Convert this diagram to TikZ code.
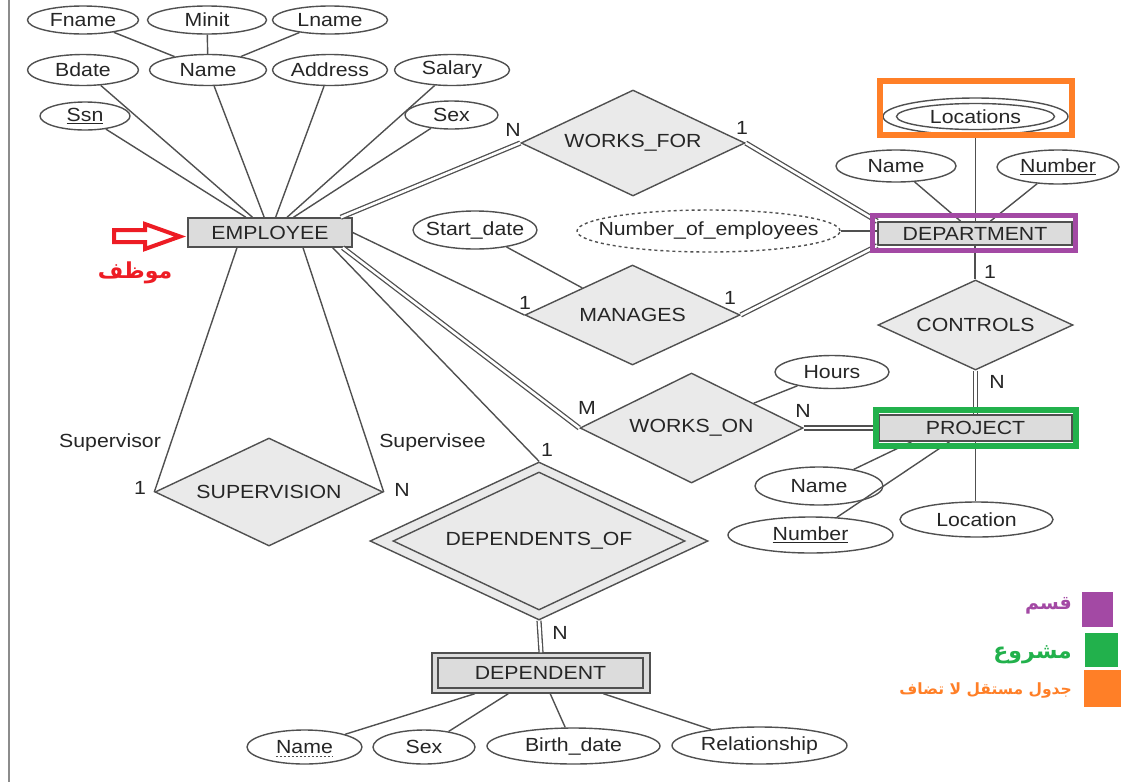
\documentclass[tikz,border=0pt]{standalone}
\usepackage{fontspec}
\setmainfont{Liberation Sans}[FakeStretch=1.12]
\newfontfamily\arabicfont[Script=Arabic]{DejaVu Sans}
\TeXXeTstate=1
\usetikzlibrary{shapes.geometric}
\definecolor{ln}{HTML}{505050}
\definecolor{tx}{HTML}{262626}
\definecolor{entfill}{HTML}{DCDCDC}
\definecolor{relfill}{HTML}{EAEAEA}
\definecolor{pur}{HTML}{A349A4}
\definecolor{grn}{HTML}{22B14C}
\definecolor{org}{HTML}{FF7F27}
\definecolor{rd}{HTML}{ED1C24}
\begin{document}
\begin{tikzpicture}[x=1pt,y=-1pt,
  every node/.style={font=\fontsize{19}{22}\selectfont, text=tx},
  every label/.style={inner sep=0pt},
  attr/.style={ellipse, draw=ln, line width=1.4pt, fill=white, inner sep=0pt},
  ent/.style={rectangle, draw=ln, line width=1.4pt, fill=entfill, inner sep=0pt},
  rel/.style={diamond, draw=ln, line width=1.4pt, fill=relfill, inner sep=0pt, aspect=2},
  conn/.style={draw=ln, line width=1.4pt},
  dbl/.style={draw=ln, line width=1.3pt, double=white, double distance=2.6pt},
  card/.style={inner sep=0pt},
  arab/.style={inner sep=0pt, anchor=east},
]
\useasboundingbox (0,0) rectangle (1121,782);
\draw[black!45, line width=2.5pt] (9,0) -- (9,782);

% ---------- entities
\node[ent, minimum width=164pt, minimum height=29pt] (emp) at (270,232.5) {EMPLOYEE};
\node[ent, minimum width=194pt, minimum height=23pt] (dept) at (975,233.5) {DEPARTMENT};
\node[ent, minimum width=193pt, minimum height=26pt] (proj) at (975.5,428) {PROJECT};
\node[ent, minimum width=218pt, minimum height=40pt] (depo) at (541,673) {};
\node[ent, minimum width=205pt, minimum height=30pt] (dep) at (540.5,673) {DEPENDENT};

% ---------- relationships
\node[rel, minimum width=224pt, minimum height=106pt] (wf) at (633,143) {WORKS\_FOR};
\node[rel, minimum width=215pt, minimum height=100pt] (man) at (632.5,315) {MANAGES};
\node[rel, minimum width=195pt, minimum height=90pt] (ctrl) at (975.5,325) {CONTROLS};
\node[rel, minimum width=223pt, minimum height=110pt] (won) at (691.5,428) {WORKS\_ON};
\node[rel, minimum width=228pt, minimum height=108pt] (sup) at (269,492) {SUPERVISION};
\node[rel, minimum width=338pt, minimum height=158pt] (dofo) at (539,541) {};
\node[rel, minimum width=292pt, minimum height=138pt, fill=none] (dof) at (539,541) {DEPENDENTS\_OF};

% ---------- attributes of EMPLOYEE
\node[attr, minimum width=111pt, minimum height=28pt, label=center:Fname] (fname) at (83,20) {};
\node[attr, minimum width=119pt, minimum height=28pt, label=center:Minit] (minit) at (207,20) {};
\node[attr, minimum width=115pt, minimum height=28pt, label=center:Lname] (lname) at (330,20) {};
\node[attr, minimum width=111pt, minimum height=31pt, label=center:Bdate] (bdate) at (83,70) {};
\node[attr, minimum width=117pt, minimum height=31pt, label=center:Name] (ename) at (208,70) {};
\node[attr, minimum width=115pt, minimum height=31pt, label=center:Address] (addr) at (330,70) {};
\node[attr, minimum width=115pt, minimum height=31pt, label={center:\raisebox{-2pt}{Salary}}] (sal) at (452,70) {};
\node[attr, minimum width=90pt, minimum height=28pt, label=center:\underline{Ssn}] (ssn) at (85,116) {};
\node[attr, minimum width=93pt, minimum height=28pt, label=center:Sex] (esex) at (451.5,115) {};

% ---------- attributes of DEPARTMENT
\node[attr, minimum width=185pt, minimum height=37pt] (loco) at (975.5,116.5) {};
\node[attr, minimum width=158pt, minimum height=26pt, label=center:Locations] (loci) at (975.5,116.5) {};
\node[attr, minimum width=120pt, minimum height=32pt, label=center:Name] (dname) at (896,166) {};
\node[attr, minimum width=122pt, minimum height=34pt, label=center:\underline{Number}] (dnum) at (1058,167) {};
\node[attr, dashed, minimum width=263pt, minimum height=42pt, label={center:\raisebox{-2pt}{Number\_of\_employees}}] (noe) at (708.5,231) {};
\node[attr, minimum width=124pt, minimum height=38pt, label={center:\raisebox{-1pt}{Start\_date}}] (sd) at (475,230) {};

% ---------- attributes of WORKS_ON / PROJECT
\node[attr, minimum width=114pt, minimum height=33pt, label=center:Hours] (hours) at (832,372) {};
\node[attr, minimum width=128pt, minimum height=38pt, label=center:Name] (pname) at (819,486) {};
\node[attr, minimum width=165pt, minimum height=36pt, label=center:\underline{Number}] (pnum) at (810.5,535) {};
\node[attr, minimum width=153pt, minimum height=35pt, label=center:Location] (ploc) at (976.5,519.5) {};

% ---------- attributes of DEPENDENT
\node[attr, minimum width=115pt, minimum height=34pt, label={[name=dpnamel]center:Name}] (dpname) at (304.5,747) {};
\node[attr, minimum width=102pt, minimum height=34pt, label=center:Sex] (dsex) at (424,747) {};
\node[attr, minimum width=173pt, minimum height=36pt, label={center:\raisebox{-1pt}{Birth\_date}}] (dbirth) at (573.5,746) {};
\node[attr, minimum width=175pt, minimum height=37pt, label={center:\raisebox{-2pt}{Relationship}}] (drel) at (759.5,745.5) {};
\draw[ln, dashed, line width=0.9pt, dash pattern=on 2.5pt off 1.5pt] ([yshift=-3pt]dpnamel.base west) -- ([yshift=-3pt]dpnamel.base east);

% ---------- connectors
\draw[conn] (fname) -- (ename);
\draw[conn] (minit) -- (ename);
\draw[conn] (lname) -- (ename);
\foreach \a in {bdate,ename,addr,sal,ssn,esex} \draw[conn] (\a) -- (emp);
\draw[dbl] ([xshift=-12pt]emp.north east) -- (wf.west);
\draw[dbl] (wf.east) -- (dept.north west);
\draw[conn] (emp.east) -- (man.west);
\draw[dbl] (man.east) -- (dept.south west);
\draw[conn] (sd) -- (man);
\draw[conn] (noe.east) -- (noe.east -| dept.west);
\draw[conn] (loco.south) -- (loco.south |- dept.north);
\draw[conn] (dname) -- (dept);
\draw[conn] (dnum) -- (dept);
\draw[conn] (dept.south) -- (dept.south |- ctrl.north);
\draw[dbl] (ctrl.south) -- (ctrl.south |- proj.north);
\draw[dbl] ([xshift=-10pt]emp.south east) -- (won.west);
\draw[dbl] (won.east) -- (proj.west);
\draw[conn] (hours) -- (won);
\draw[conn] ([xshift=-64pt]proj.south) -- (pname);
\draw[conn] ([xshift=-26pt]proj.south) -- (pnum);
\draw[conn] (proj.south) -- (proj.south |- ploc.north);
\draw[conn] ([xshift=-33pt]emp.south) -- (sup.west);
\draw[conn] ([xshift=33pt]emp.south) -- (sup.east);
\draw[conn] ([xshift=-20pt]emp.south east) -- (dofo.north);
\draw[dbl] (dofo.south) -- (depo.north);
\foreach \a in {dpname,dsex,dbirth,drel} \draw[conn] (depo) -- (\a);

% ---------- cardinalities and roles
\node[card] (c1) at (513,130) {N};
\node[card] (c2) at (742,128) {1};
\node[card] (c3) at (525,303) {1};
\node[card] (c4) at (730,298) {1};
\node[card] (c5) at (990,272) {1};
\node[card] (c6) at (997,382) {N};
\node[card] (c7) at (803,411) {N};
\node[card] (c8) at (587,408) {M};
\node[card] (c9) at (547,450) {1};
\node[card] (c10) at (560,633) {N};
\node[card] (r1) at (110,443) {Supervisor};
\node[card] (r2) at (432.5,443) {Supervisee};
\node[card] (c11) at (140,488) {1};
\node[card] (c12) at (402,490) {N};

% ---------- highlight frames
\draw[org, line width=6pt] (880,81) rectangle (1072,135);
\draw[pur, line width=5pt] (872.5,215.5) rectangle (1075.5,250.5);
\draw[grn, line width=6pt] (876,410) rectangle (1076,446);

% ---------- red arrow and label
\draw[rd, line width=4pt, fill=white, line join=miter] (114,230) -- (145,230) -- (145,224) -- (180,236.5) -- (145,249) -- (145,242) -- (114,242) -- cycle;
\node[inner sep=0pt, text=rd, font=\arabicfont\bfseries\fontsize{22}{26}\selectfont] (mwzf) at (135,273) {\beginR موظف\endR};

% ---------- legend
\fill[pur] (1082,592) rectangle (1113,627);
\fill[grn] (1085,633) rectangle (1118,667);
\fill[org] (1084,670) rectangle (1121,707);
\node[arab, text=pur, font=\arabicfont\bfseries\fontsize{19}{24}\selectfont] (lg1) at (1072,606) {\beginR قسم\endR};
\node[arab, text=grn, font=\arabicfont\bfseries\fontsize{22}{26}\selectfont] (lg2) at (1072,655) {\beginR مشروع\endR};
\node[arab, text=org, font=\arabicfont\bfseries\fontsize{15.5}{18}\selectfont] (lg3) at (1072,690) {\beginR جدول مستقل لا تضاف\endR};
\end{tikzpicture}
\end{document}
